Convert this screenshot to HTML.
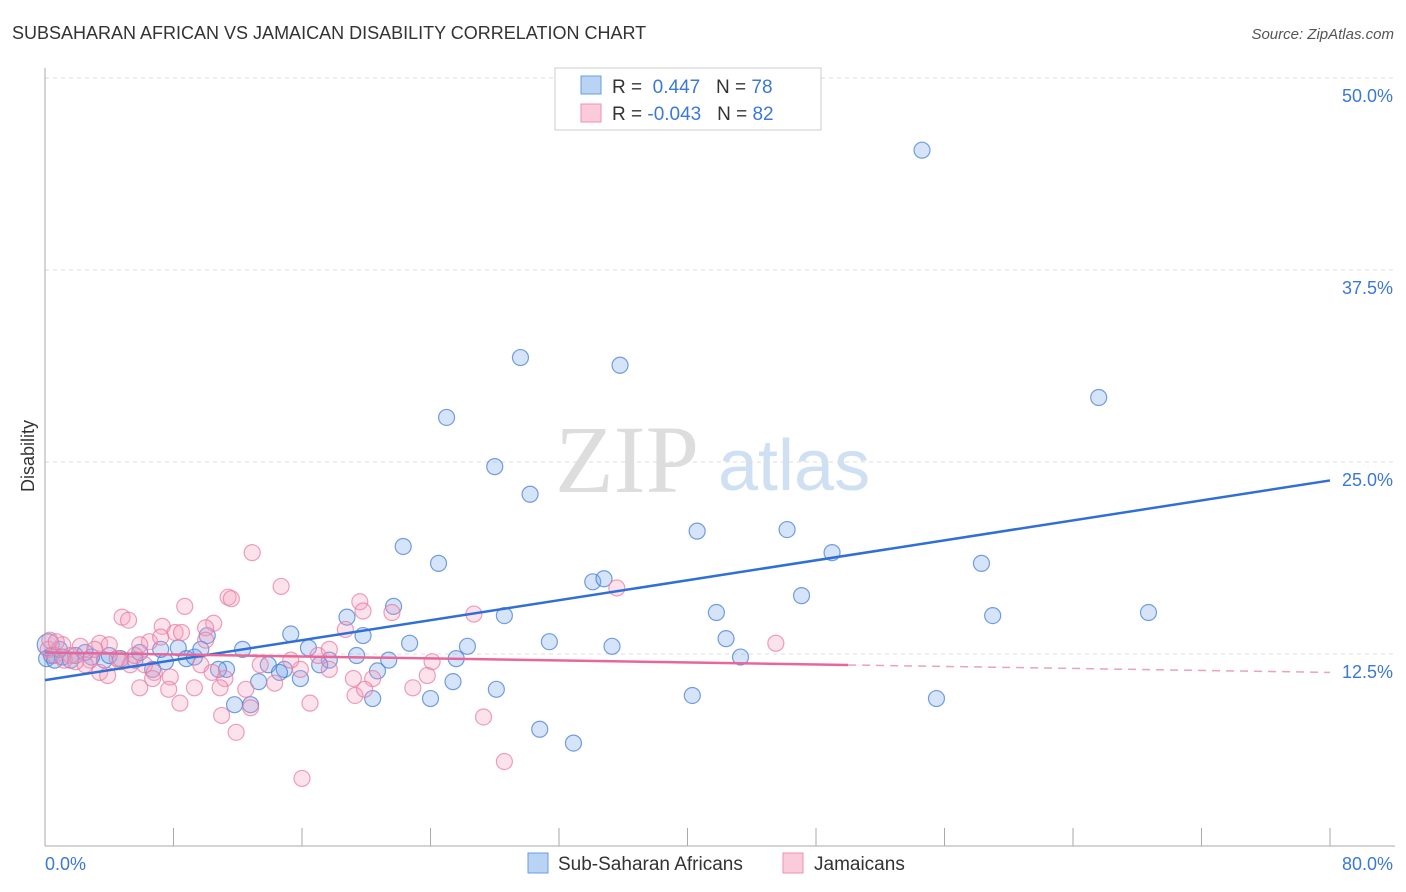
<!DOCTYPE html>
<html><head><meta charset="utf-8"><style>
body{margin:0;background:#fff;font-family:"Liberation Sans",sans-serif;}
svg{display:block}
</style></head><body>
<svg id="chart" width="1406" height="892">
<text x="12" y="39" font-size="18" fill="#333">SUBSAHARAN AFRICAN VS JAMAICAN DISABILITY CORRELATION CHART</text>
<text x="1394" y="39" font-size="15" fill="#555" font-style="italic" text-anchor="end">Source: ZipAtlas.com</text>
<text x="0" y="0" font-size="18" fill="#333" text-anchor="middle" transform="translate(34,456) rotate(-90)">Disability</text>
<g><text x="555" y="492" font-size="96" fill="#ddd" font-family="Liberation Serif,serif">ZIP</text><text x="718" y="490" font-size="72" fill="#cfe0f3">atlas</text></g>
<g id="grid"></g><g id="axes"></g><g id="pts"></g><g id="lines"></g>
<g>
<rect x="555" y="68" width="266" height="62" fill="#fff" stroke="#ccc"/>
<rect x="581" y="76" width="20" height="18" fill="#b9d3f5" stroke="#6a9ce0"/>
<rect x="581" y="104" width="20" height="18" fill="#fbcadb" stroke="#ec93b2"/>
<text x="612" y="93" font-size="19" fill="#333">R = <tspan fill="#3b78d8">&#160;0.447</tspan>&#160;&#160;&#160;N = <tspan fill="#3b78d8">78</tspan></text>
<text x="612" y="120" font-size="19" fill="#333">R = <tspan fill="#3b78d8">-0.043</tspan>&#160;&#160;&#160;N = <tspan fill="#3b78d8">82</tspan></text>
</g>
<g>
<rect x="528" y="853" width="20" height="20" fill="#b9d3f5" stroke="#6a9ce0"/>
<text x="558" y="870" font-size="19" fill="#333">Sub-Saharan Africans</text>
<rect x="783" y="853" width="20" height="20" fill="#fbcadb" stroke="#ec93b2"/>
<text x="814" y="870" font-size="19" fill="#333">Jamaicans</text>
</g>
</svg>
<script>
const yTicks=[12.5,25,37.5,50];
const yTickLabels=["12.5%","25.0%","37.5%","50.0%"];
const xTickCount=10;
const blueX=[54.6,29.6,35.8,65.6,25.0,28.0,30.2,22.3,40.6,46.2,49.0,24.5,58.3,34.1,34.8,47.1,41.8,59.0,68.7,28.6,21.7,18.8,15.3,19.8,22.7,26.3,31.4,35.3,42.4,43.3,12.3,8.3,10.1,16.4,19.4,21.4,25.6,17.7,17.1,13.9,14.9,14.6,11.3,10.8,8.8,9.3,7.5,6.7,5.6,4.7,3.7,2.9,1.9,1.1,0.4,0.2,0.1,13.3,15.9,20.7,25.4,28.1,40.3,55.5,20.4,24.0,11.8,12.8,30.8,32.9,0.9,2.5,5.9,4.0,1.6,7.2,0.6,9.7];
const blueY=[45.3,31.8,31.3,29.2,27.9,24.7,22.9,19.5,20.5,20.6,19.1,18.4,18.4,17.2,17.4,16.3,15.2,15.0,15.2,15.0,15.6,14.9,13.8,13.7,13.2,13.0,13.3,13.0,13.5,12.3,12.8,12.9,13.7,12.9,12.4,12.1,12.2,12.1,11.8,11.8,11.5,11.3,11.5,11.5,12.2,12.3,12.0,11.5,12.1,12.2,12.1,12.3,12.4,12.3,12.4,13.1,12.2,10.7,10.9,11.4,10.7,10.2,9.8,9.6,9.6,9.6,9.2,9.2,7.6,6.7,12.8,12.6,12.6,12.4,12.1,12.8,12.1,12.8];
const pinkX=[12.9,14.7,11.4,11.6,8.7,4.8,5.2,26.7,35.6,45.5,19.6,19.8,21.6,10.5,10.0,7.3,8.1,8.5,6.5,7.2,5.9,3.4,4.0,2.2,1.1,0.2,0.6,1.6,2.8,4.7,5.3,6.2,6.8,7.8,9.7,10.4,11.2,12.5,14.3,15.9,17.0,17.7,19.2,20.4,19.3,19.9,22.9,24.1,23.8,5.9,7.7,9.3,10.9,8.4,11.0,12.8,11.9,16.5,27.3,28.6,16.0,3.4,3.9,2.5,1.2,1.9,0.3,0.7,3.1,4.5,5.6,13.4,15.3,17.7,18.7,6.7,10.0];
const pinkY=[19.1,16.9,16.2,16.1,15.6,14.9,14.7,15.1,16.8,13.2,15.9,15.3,15.2,14.5,14.2,14.3,13.9,13.9,13.3,13.6,13.1,13.2,13.1,13.0,13.1,12.8,12.4,12.4,12.1,12.0,11.8,11.8,11.3,11.0,11.8,11.3,10.9,10.2,10.6,11.5,12.4,11.5,10.9,10.9,9.8,10.2,10.3,12.0,11.1,10.3,10.2,10.3,10.3,9.3,8.5,9.0,7.4,9.3,8.4,5.5,4.4,11.3,11.1,11.8,12.1,12.0,13.4,13.3,12.8,12.2,12.4,11.8,12.1,12.8,14.1,10.9,13.4];
const blueTrend=[10.8,23.8];
const pinkTrend=[12.6,11.3];
const NS="http://www.w3.org/2000/svg";
const sx=v=>45+v*(1285/80);
const sy=v=>846-v*15.36;
function mk(t,a,p){const e=document.createElementNS(NS,t);for(const k in a)e.setAttribute(k,a[k]);p.appendChild(e);return e;}
const grid=document.getElementById('grid'),axes=document.getElementById('axes'),pts=document.getElementById('pts'),lines=document.getElementById('lines');
yTicks.forEach((t,i)=>{
 const g=mk('line',{x1:45,x2:1395,y1:sy(t),y2:sy(t),stroke:'#ddd','stroke-dasharray':'4,4'},grid);
 
 
 const l=mk('text',{x:1393,y:sy(t)+24,'font-size':18,fill:'#3b78d8','text-anchor':'end'},axes);
 l.textContent=yTickLabels[i];
 
 
});
const ax=mk('line',{x1:45,x2:45,y1:68,y2:846,stroke:'#aaa'},axes);


const bx=mk('line',{x1:45,x2:1395,y1:846,y2:846,stroke:'#aaa'},axes);


for(let i=0;i<=xTickCount;i++){
 const x=sx(i*80/xTickCount);
 const t=mk('line',{x1:x,x2:x,y1:828,y2:846,stroke:'#aaa'},axes);
 
 
}
const x0=mk('text',{x:45,y:870,'font-size':18,fill:'#3b78d8'},axes);x0.textContent='0.0%';


const x1=mk('text',{x:1393,y:870,'font-size':18,fill:'#3b78d8','text-anchor':'end'},axes);x1.textContent='80.0%';


blueX.forEach((v,i)=>{
 const c=mk('circle',{cx:sx(v),cy:sy(blueY[i]),r:(i==55?11:8),fill:'rgba(120,165,235,0.3)',stroke:'rgba(60,120,215,0.7)','stroke-width':1.2},pts);
 
 
});
pinkX.forEach((v,i)=>{
 const c=mk('circle',{cx:sx(v),cy:sy(pinkY[i]),r:8,fill:'rgba(245,160,190,0.3)',stroke:'rgba(232,120,160,0.7)','stroke-width':1.2},pts);
 
 
});
const bl=mk('line',{x1:sx(0),y1:sy(blueTrend[0]),x2:sx(80),y2:sy(blueTrend[1]),stroke:'#2f6fd6','stroke-width':2.5},lines);


const pm=pinkTrend[0]+(pinkTrend[1]-pinkTrend[0])*50/80;
const pl=mk('line',{x1:sx(0),y1:sy(pinkTrend[0]),x2:sx(50),y2:sy(pm),stroke:'#e8679a','stroke-width':2.5},lines);


const pd=mk('line',{x1:sx(50),y1:sy(pm),x2:sx(80),y2:sy(pinkTrend[1]),stroke:'#eea0bd','stroke-width':1.5,'stroke-dasharray':'8,6'},lines);


</script>
</body></html>
